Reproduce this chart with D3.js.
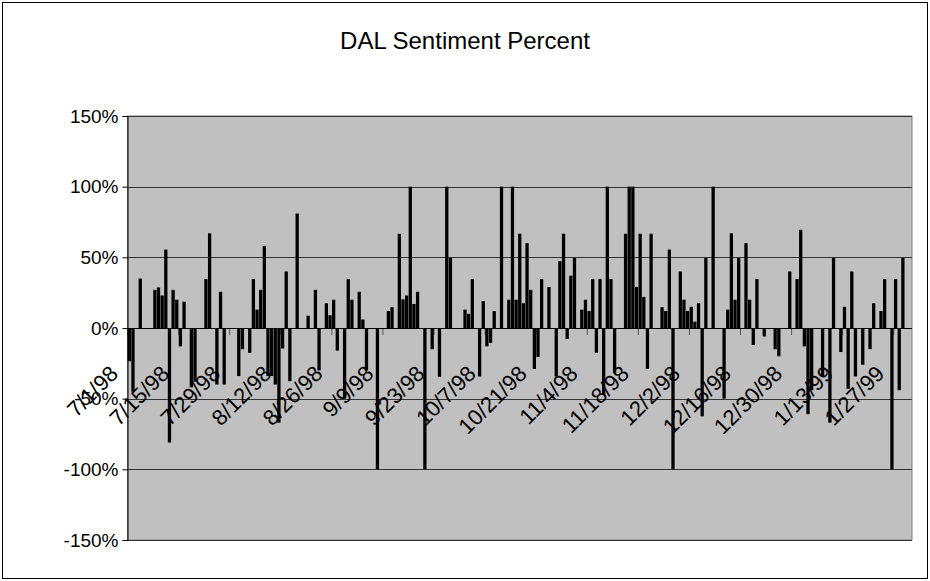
<!DOCTYPE html>
<html>
<head>
<meta charset="utf-8">
<script src="https://cdn.jsdelivr.net/npm/d3@7"></script>
<style>
  html, body { margin: 0; padding: 0; background: #fff; }
  svg { display: block; }
  text { font-family: "Liberation Sans", Arial, sans-serif; fill: #000; }
</style>
</head>
<body>
<svg id="chart" width="930" height="581"></svg>
<script>
// ---- data ----
const title = "DAL Sentiment Percent";
const dates = [
  "7/1/98","7/2/98","7/4/98","7/8/98","7/9/98","7/10/98","7/11/98","7/12/98","7/13/98","7/14/98",
  "7/15/98","7/16/98","7/18/98","7/19/98","7/22/98","7/23/98","7/25/98","7/26/98","7/27/98","7/31/98",
  "8/1/98","8/3/98","8/4/98","8/5/98","8/6/98","8/7/98","8/8/98","8/9/98","8/10/98","8/11/98",
  "8/12/98","8/13/98","8/14/98","8/16/98","8/19/98","8/21/98","8/22/98","8/24/98","8/25/98","8/26/98",
  "8/27/98","8/29/98","8/30/98","8/31/98","9/2/98","9/3/98","9/4/98","9/7/98","9/10/98","9/11/98",
  "9/13/98","9/14/98","9/15/98","9/16/98","9/17/98","9/18/98","9/20/98","9/22/98","9/24/98","9/26/98",
  "9/27/98","10/1/98","10/2/98","10/3/98","10/5/98","10/6/98","10/7/98","10/8/98","10/9/98","10/11/98",
  "10/13/98","10/14/98","10/15/98","10/16/98","10/17/98","10/18/98","10/19/98","10/20/98","10/21/98","10/22/98",
  "10/24/98","10/26/98","10/27/98","10/28/98","10/29/98","10/30/98","10/31/98","11/2/98","11/3/98","11/4/98",
  "11/5/98","11/6/98","11/7/98","11/8/98","11/9/98","11/10/98","11/11/98","11/14/98","11/15/98","11/16/98",
  "11/17/98","11/18/98","11/19/98","11/20/98","11/21/98","11/24/98","11/25/98","11/26/98","11/27/98","11/29/98",
  "11/30/98","12/1/98","12/2/98","12/3/98","12/4/98","12/5/98","12/6/98","12/8/98","12/11/98","12/12/98",
  "12/13/98","12/14/98","12/15/98","12/17/98","12/18/98","12/19/98","12/20/98","12/22/98","12/25/98","12/26/98",
  "12/29/98","12/31/98","1/1/99","1/2/99","1/3/99","1/4/99","1/7/99","1/9/99","1/10/99","1/12/99",
  "1/13/99","1/14/99","1/15/99","1/16/99","1/18/99","1/20/99","1/21/99","1/23/99","1/24/99","1/26/99",
  "1/27/99","1/28/99","1/29/99"
];
const values = [
  -23.5,-45,35,27,28.7,23,55.5,-81,27,20,
  -13,18.6,-42,-38,34.6,67,-40,25.6,-40,-34,
  -15,-17.6,34.6,13,27,58,-34,-34,-40,-67,
  -14.5,40,-37.6,81,8.7,27,-30,17.5,9,20,
  -16,-50,34.6,20,25.6,6,-30,-100,12,14.7,
  66.6,20.3,23,100,17,25.6,-100,-15,-34.5,100,
  49.5,13,10,34.6,-34.3,19,-13,-10.5,12,100,
  20,100,20,66.7,17.5,60,27,-29,-20.5,34.6,
  29,-34.3,47.3,66.7,-7.7,37,49.5,13,20,12,
  34.6,-17.5,34.6,-47,100,34.6,-32,66.7,100,100,
  29,66.7,22,-29,66.7,14.7,12,55.5,-100,40,
  20,12,15,4.5,17.5,-62.5,49.5,100,-50,13,
  67,20,49.5,60,20,-12,34.6,-6,-15,-20,
  40,34.6,69.5,-13,-61,-44,-34.5,-67,49.5,-17,
  15,-43,40,-34.3,-26,-15,17.5,12,34.6,-100,
  34.6,-44,49.5
];
const yTicks = [-150, -100, -50, 0, 50, 100, 150];
const xTickLabels = ["7/1/98","7/15/98","7/29/98","8/12/98","8/26/98","9/9/98","9/23/98",
  "10/7/98","10/21/98","11/4/98","11/18/98","12/2/98","12/16/98","12/30/98","1/13/99","1/27/99"];
const firstDay = "7/1/98", lastDay = "1/31/99";

// ---- drawing ----
const parse = d3.timeParse("%m/%d/%y");
const key = d3.timeFormat("%Y-%m-%d");
const svg = d3.select("#chart");
const W = 930, H = 581;
const plot = { left: 127.5, right: 912, top: 116, bottom: 540 };

svg.append("rect").attr("x", 0).attr("y", 0).attr("width", W).attr("height", H).attr("fill", "#fff");
svg.append("rect").attr("x", 2.5).attr("y", 2.5).attr("width", W - 5).attr("height", H - 5)
  .attr("fill", "none").attr("stroke", "#000").attr("stroke-width", 1);

const allDays = d3.timeDay.range(parse(firstDay), d3.timeDay.offset(parse(lastDay), 1));
const x = d3.scaleBand().domain(allDays.map(key)).range([plot.left, plot.right])
  .paddingInner(0.1).paddingOuter(0.05);
const y = d3.scaleLinear().domain([-150, 150]).range([plot.bottom, plot.top]);

// plot area
svg.append("rect").attr("x", plot.left).attr("y", plot.top)
  .attr("width", plot.right - plot.left).attr("height", plot.bottom - plot.top)
  .attr("fill", "#c0c0c0").attr("stroke", "#808080").attr("stroke-width", 1);

// gridlines
svg.append("g").selectAll("line").data(yTicks.filter(d => d !== 0)).join("line")
  .attr("x1", plot.left).attr("x2", plot.right)
  .attr("y1", d => Math.round(y(d)) + 0.5).attr("y2", d => Math.round(y(d)) + 0.5)
  .attr("stroke", "#333").attr("stroke-width", 1);

// x tick marks (every 14 days, at slot boundaries)
const gap = (x.step() - x.bandwidth()) / 2;
svg.append("g").selectAll("line").data(xTickLabels).join("line")
  .attr("x1", d => x(key(parse(d))) - gap).attr("x2", d => x(key(parse(d))) - gap)
  .attr("y1", y(0)).attr("y2", y(0) + 7)
  .attr("stroke", "#555").attr("stroke-width", 1);

// bars
const data = dates.map((d, i) => ({ k: key(parse(d)), v: values[i] }));
svg.append("g").selectAll("rect").data(data).join("rect")
  .attr("x", d => x(d.k))
  .attr("width", x.bandwidth())
  .attr("y", d => y(Math.max(0, d.v)))
  .attr("height", d => Math.abs(y(d.v) - y(0)))
  .attr("fill", "#000");

// zero axis line
svg.append("line").attr("x1", plot.left).attr("x2", plot.right)
  .attr("y1", Math.round(y(0)) + 0.5).attr("y2", Math.round(y(0)) + 0.5)
  .attr("stroke", "#000").attr("stroke-width", 1);

// y axis
const yAxis = d3.axisLeft(y).tickValues(yTicks).tickFormat(d => d + "%").tickSize(5).tickPadding(4);
const gy = svg.append("g").attr("transform", `translate(${plot.left},0)`).call(yAxis);
gy.select(".domain").attr("stroke", "#000");
gy.selectAll(".tick line").attr("stroke", "#000");
gy.selectAll("text").style("font-family", '"Liberation Sans", Arial, sans-serif')
  .style("font-size", "19px").attr("fill", "#000");

// x labels (rotated)
svg.append("g").selectAll("text").data(xTickLabels).join("text")
  .attr("transform", d => `translate(${x(key(parse(d))) - gap - 8},${y(0) + 47}) rotate(-45)`)
  .attr("text-anchor", "end")
  .style("font-size", "22px")
  .text(d => d);

// title
svg.append("text").attr("x", 465).attr("y", 49).attr("text-anchor", "middle")
  .style("font-size", "24px").text(title);
</script>
</body>
</html>
